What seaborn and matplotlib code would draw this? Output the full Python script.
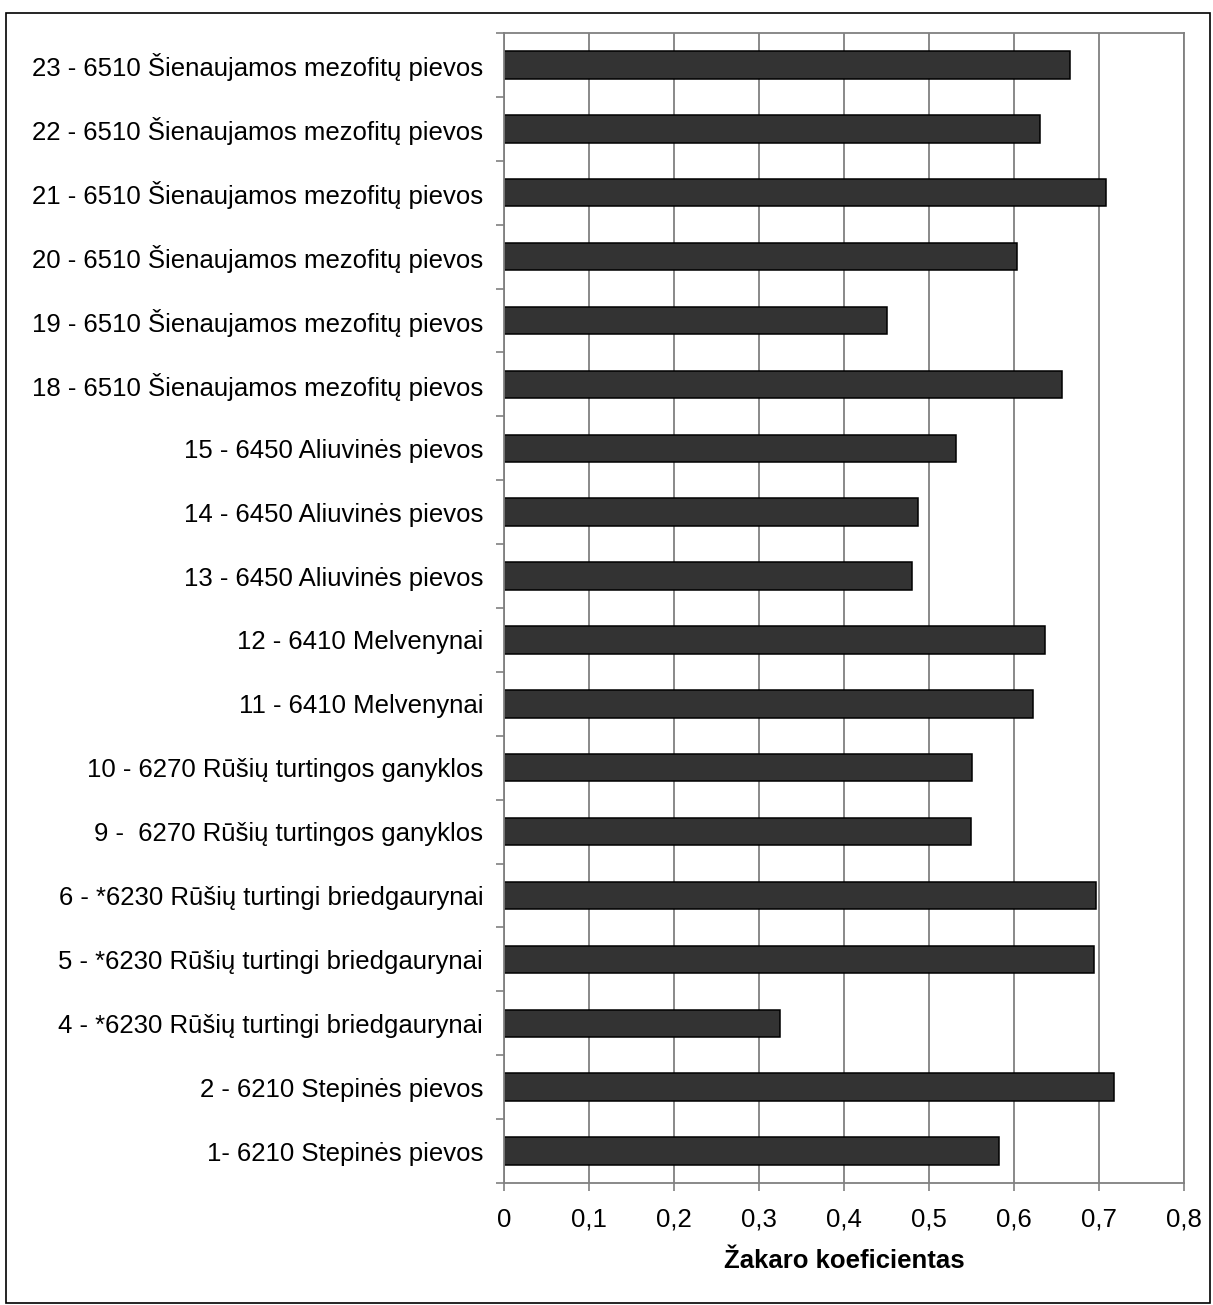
import matplotlib
matplotlib.use("Agg")
import matplotlib.pyplot as plt
import seaborn as sns
import pandas as pd
from matplotlib.ticker import FuncFormatter, FixedLocator
from matplotlib.patches import Rectangle

# data, top to bottom as in the chart
categories = [
    "23 - 6510 Šienaujamos mezofitų pievos",
    "22 - 6510 Šienaujamos mezofitų pievos",
    "21 - 6510 Šienaujamos mezofitų pievos",
    "20 - 6510 Šienaujamos mezofitų pievos",
    "19 - 6510 Šienaujamos mezofitų pievos",
    "18 - 6510 Šienaujamos mezofitų pievos",
    "15 - 6450 Aliuvinės pievos",
    "14 - 6450 Aliuvinės pievos",
    "13 - 6450 Aliuvinės pievos",
    "12 - 6410 Melvenynai",
    "11 - 6410 Melvenynai",
    "10 - 6270 Rūšių turtingos ganyklos",
    "9 -  6270 Rūšių turtingos ganyklos",
    "6 - *6230 Rūšių turtingi briedgaurynai",
    "5 - *6230 Rūšių turtingi briedgaurynai",
    "4 - *6230 Rūšių turtingi briedgaurynai",
    "2 - 6210 Stepinės pievos",
    "1- 6210 Stepinės pievos",
]
values = [0.666, 0.631, 0.708, 0.603, 0.450, 0.656,
          0.532, 0.487, 0.480, 0.636, 0.622, 0.551,
          0.549, 0.697, 0.694, 0.325, 0.718, 0.582]
x_ticks = [0, 0.1, 0.2, 0.3, 0.4, 0.5, 0.6, 0.7, 0.8]

df = pd.DataFrame({"label": categories, "value": values})

sns.set_style("white")
plt.rcParams["font.family"] = ["Liberation Sans", "DejaVu Sans"]
plt.rcParams["text.color"] = "black"
plt.rcParams["axes.labelcolor"] = "black"

fig = plt.figure(figsize=(12.13, 13.05), dpi=100)
ax = fig.add_axes([504 / 1213, 1 - 1183 / 1305, 680 / 1213, 1150 / 1305])

sns.barplot(data=df, y="label", x="value", orient="h", order=categories,
            color="#333333", saturation=1, width=0.43,
            edgecolor="black", linewidth=1.1, ax=ax)

ax.set_xlim(0, 0.8)
ax.set_ylim(len(categories) - 0.5, -0.5)
ax.xaxis.set_major_locator(FixedLocator(x_ticks))
ax.xaxis.set_major_formatter(FuncFormatter(lambda v, p: ("%g" % round(v, 1)).replace(".", ",")))
ax.grid(axis="x", color="#808080", linewidth=1.3)
ax.set_axisbelow(True)

# category ticks sit between the bars
ax.yaxis.set_minor_locator(FixedLocator([i - 0.5 for i in range(len(categories) + 1)]))
ax.tick_params(axis="y", which="major", length=0, pad=15, labelsize=18.5, labelcolor="black")
ax.tick_params(axis="y", which="minor", length=6, width=1.2, color="#808080", left=True)
ax.tick_params(axis="x", length=6, width=1.2, color="#808080", pad=12, labelsize=18.5,
               labelcolor="black", bottom=True)

for s in ax.spines.values():
    s.set_color("#808080")
    s.set_linewidth(1.3)

ax.set_ylabel("")
ax.set_xlabel("Žakaro koeficientas", fontsize=18.5, fontweight="bold", labelpad=12, color="black")

# outer chart frame
fig.patches.append(Rectangle((6 / 1213, 2 / 1305), 1204 / 1213, 1290 / 1305,
                             transform=fig.transFigure, fill=False,
                             edgecolor="black", linewidth=1.2))

fig.savefig("out.png", dpi=100, facecolor="white")
